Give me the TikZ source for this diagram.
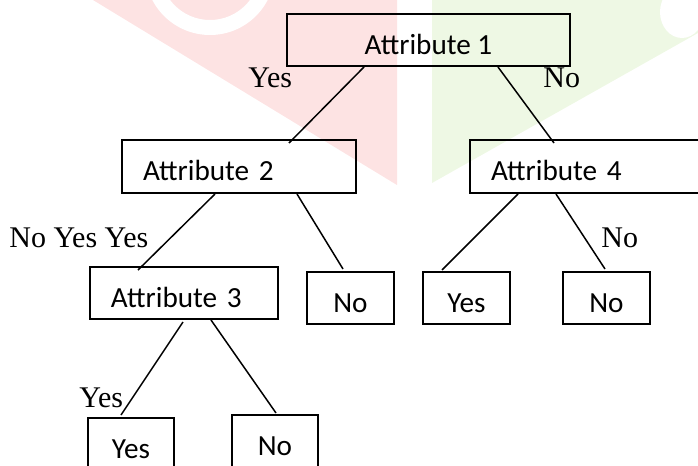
\documentclass[tikz,border=0pt]{standalone}
\usepackage{fontspec}
\setmainfont{Liberation Serif}
\newfontfamily\boxfont{Carlito}
\usetikzlibrary{calc}
\definecolor{wmpink}{RGB}{253,227,227}
\definecolor{wmgreen}{RGB}{238,248,228}
\begin{document}
\begin{tikzpicture}[x=0.5pt,y=-0.5pt,
  box/.style={draw, line width=1pt, rectangle, inner sep=0pt, anchor=north west,
    font=\boxfont\fontsize{14.6}{16}\selectfont, text height=14.2pt, text depth=0pt},
  lbox/.style={box, align=left, inner xsep=10.5pt},
  edge/.style={line width=0.75pt},
  lbl/.style={inner sep=0pt, anchor=base west, font=\fontsize{15}{17}\selectfont}]
\useasboundingbox (0,0) rectangle (698,466);
\clip (0,0) rectangle (698,466);
% faint watermark
\begin{scope}
  \clip (93,0) -- (397,0) -- (397,185) -- cycle;
  \fill[wmpink] (93,0) -- (397,0) -- (397,185) -- cycle;
  \fill[white, even odd rule] (210,-30) circle (65) (210,-30) circle (50);
\end{scope}
\fill[wmgreen] (432,0) -- (698,0) -- (698,33) -- (432,183) -- cycle;
\fill[white] (682,12) ellipse (22 and 26);
% boxes
\node[box, minimum width=141.5pt, minimum height=26pt] (a1) at (286,13) {Attribute 1};
\node[lbox, text width=96pt, minimum height=26.5pt] (a2) at (121,139) {Attribute 2};
\node[lbox, text width=96pt, minimum height=26.5pt] (a4) at (469,139) {Attribute 4};
\node[lbox, text width=73pt, minimum height=26pt] (a3) at (89,266) {Attribute 3};
\node[box, minimum width=43.5pt, minimum height=26pt] (l1) at (306,271) {No};
\node[box, minimum width=43.5pt, minimum height=26pt] (l2) at (422,271) {Yes};
\node[box, minimum width=43.5pt, minimum height=26pt] (l3) at (562,271) {No};
\node[box, minimum width=43pt, minimum height=26pt] (l4) at (87,417) {Yes};
\node[box, minimum width=43pt, minimum height=26pt] (l5) at (231,414) {No};
% connectors
\draw[edge] ($(a1.south west)+(78,0)$) -- ($(a2.north west)+(168,4)$);
\draw[edge] ($(a1.south west)+(212,0)$) -- ($(a4.north west)+(85,4)$);
\draw[edge] ($(a2.south west)+(94,0)$) -- ($(a3.north west)+(49,4)$);
\draw[edge] ($(a2.south west)+(176,0)$) -- ($(l1.north west)+(37,-2)$);
\draw[edge] ($(a4.south west)+(49,0)$) -- ($(l2.north west)+(20,-1)$);
\draw[edge] ($(a4.south west)+(87,0)$) -- ($(l3.north west)+(43,-2)$);
\draw[edge] ($(a3.south west)+(94,2)$) -- ($(l4.north west)+(34,-2)$);
\draw[edge] ($(a3.south west)+(122,0)$) -- ($(l5.north west)+(45,-1)$);
% labels
\node[lbl] (y1) at (248,87) {Yes};
\node[lbl] (n1) at (543,87) {No};
\node[lbl] (y2) at (9,247) {No Yes Yes};
\node[lbl] (n2) at (601,248) {No};
\node[lbl] (y3) at (79,407) {Yes};
\end{tikzpicture}
\end{document}
